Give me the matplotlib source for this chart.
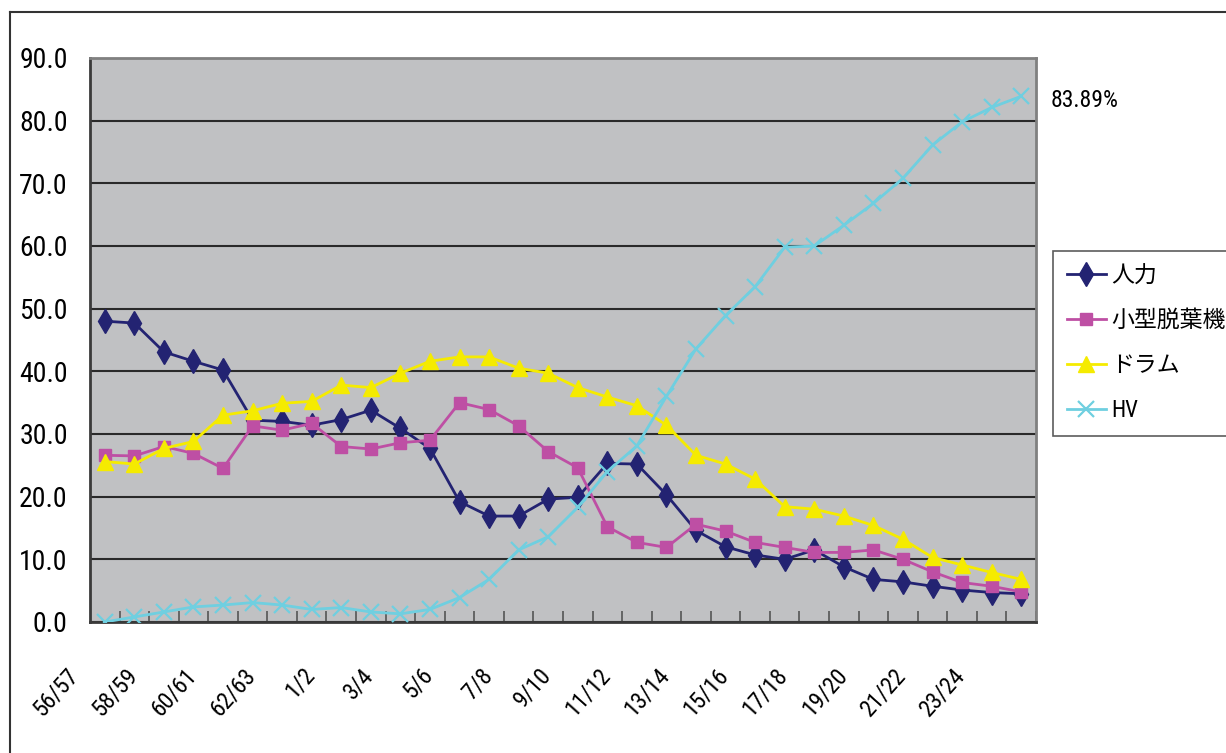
import matplotlib
matplotlib.use("Agg")
import matplotlib.pyplot as plt
import matplotlib.transforms as mtransforms
from matplotlib.lines import Line2D

# 年度区分(昭和56/57 ～ 平成24/25)
years = [
    "56/57", "57/58", "58/59", "59/60", "60/61", "61/62", "62/63", "63/1",
    "1/2", "2/3", "3/4", "4/5", "5/6", "6/7", "7/8", "8/9",
    "9/10", "10/11", "11/12", "12/13", "13/14", "14/15", "15/16", "16/17",
    "17/18", "18/19", "19/20", "20/21", "21/22", "22/23", "23/24", "24/25",
]

# 収穫方式別の割合(%)
jinryoku = [48.0, 47.7, 43.1, 41.6, 40.2, 32.2, 32.0, 31.4, 32.3, 33.8, 30.9,
            27.7, 19.2, 16.9, 16.9, 19.6, 19.9, 25.3, 25.2, 20.3, 14.6, 12.0,
            10.7, 10.0, 11.5, 8.8, 6.8, 6.4, 5.7, 5.1, 4.7, 4.5]
kogata = [26.6, 26.5, 28.0, 26.9, 24.5, 31.3, 30.6, 31.7, 28.0, 27.6, 28.6,
          29.0, 35.0, 33.9, 31.3, 27.2, 24.6, 15.2, 12.7, 11.9, 15.6, 14.5,
          12.7, 11.9, 11.1, 11.1, 11.5, 10.0, 8.0, 6.3, 5.7, 4.8]
drum = [25.6, 25.2, 27.7, 28.8, 33.0, 33.7, 34.9, 35.2, 37.8, 37.4, 39.7,
        41.6, 42.3, 42.3, 40.5, 39.7, 37.4, 35.9, 34.5, 31.4, 26.6, 25.2,
        22.8, 18.4, 18.0, 16.9, 15.4, 13.2, 10.3, 9.1, 7.9, 6.8]
hv = [0.0, 0.8, 1.6, 2.4, 2.7, 3.1, 2.7, 2.0, 2.3, 1.6, 1.3,
      2.0, 3.9, 6.8, 11.5, 13.6, 18.3, 24.0, 28.1, 36.0, 43.6, 48.9,
      53.5, 59.8, 60.0, 63.3, 66.8, 70.8, 76.1, 79.8, 82.1, 83.89]

series_names = ["人力", "小型脱葉機", "ドラム", "HV"]

plt.rcParams["font.family"] = ["Roboto Condensed", "DejaVu Sans Condensed",
                               "Liberation Sans", "Noto Sans CJK JP"]

fig = plt.figure(figsize=(12.26, 7.53), dpi=100)
ax = fig.add_axes([0.0734, 0.174, 0.7716, 0.749])
ax.set_facecolor("#c0c1c3")

x = list(range(len(years)))
ax.plot(x, jinryoku, color="#232372", lw=2, marker="d", ms=12,
        label=series_names[0], zorder=4)
ax.plot(x, kogata, color="#be4fa4", lw=2, marker="s", ms=8,
        label=series_names[1], zorder=4)
ax.plot(x, drum, color="#f5eb00", lw=2, marker="^", ms=11,
        label=series_names[2], zorder=4)
ax.plot(x, hv, color="#6fcfe0", lw=2, marker="x", ms=11, mew=1.6,
        label=series_names[3], zorder=4)

ax.set_xlim(-0.5, len(years) - 0.5)
ax.set_ylim(0, 90)
ax.set_yticks(range(0, 91, 10))
ax.set_yticklabels([f"{v:.1f}" for v in range(0, 91, 10)], fontsize=20)
ax.yaxis.grid(True, color="#2a2a2a", lw=1.5)
ax.set_axisbelow(True)
ax.tick_params(axis="y", length=0, pad=16)

# 目盛線は区分の境界、ラベルは1つおき
ax.set_xticks(x[::2])
ax.set_xticklabels(years[::2], fontsize=17, rotation=48, ha="right", va="top")
ax.set_xticks([i - 0.5 for i in range(1, len(years) + 1)], minor=True)
ax.tick_params(axis="x", which="major", length=0, pad=30)
ax.tick_params(axis="x", which="minor", direction="in", length=8,
               width=1.2, color="#555555")
shift = mtransforms.ScaledTranslation(-0.22, 0, fig.dpi_scale_trans)
for lbl in ax.get_xticklabels():
    lbl.set_transform(lbl.get_transform() + shift)

for side in ["left", "bottom"]:
    ax.spines[side].set_color("#3a3a3a")
    ax.spines[side].set_linewidth(2)
for side in ["top", "right"]:
    ax.spines[side].set_color("#808080")
    ax.spines[side].set_linewidth(2)

ax.annotate(f"{hv[-1]:.2f}%", xy=(x[-1], hv[-1]), xytext=(21, -3),
            textcoords="offset points", fontsize=17, ha="left", va="center",
            annotation_clip=False)

leg = fig.legend(loc="upper left", bbox_to_anchor=(0.859, 0.667),
                 prop={"size": 16.5}, frameon=True,
                 fancybox=False, edgecolor="#333333",
                 handlelength=1.7, handletextpad=0.25, labelspacing=0.95,
                 borderpad=0.6, borderaxespad=0)
leg.get_frame().set_linewidth(1.2)

# 外枠
fig.add_artist(Line2D([10 / 1226, 1], [1 - 12 / 753] * 2,
                      transform=fig.transFigure, color="#333333", lw=1.5))
fig.add_artist(Line2D([10 / 1226] * 2, [0, 1 - 12 / 753],
                      transform=fig.transFigure, color="#333333", lw=1.5))

fig.savefig("out.png", dpi=100)
